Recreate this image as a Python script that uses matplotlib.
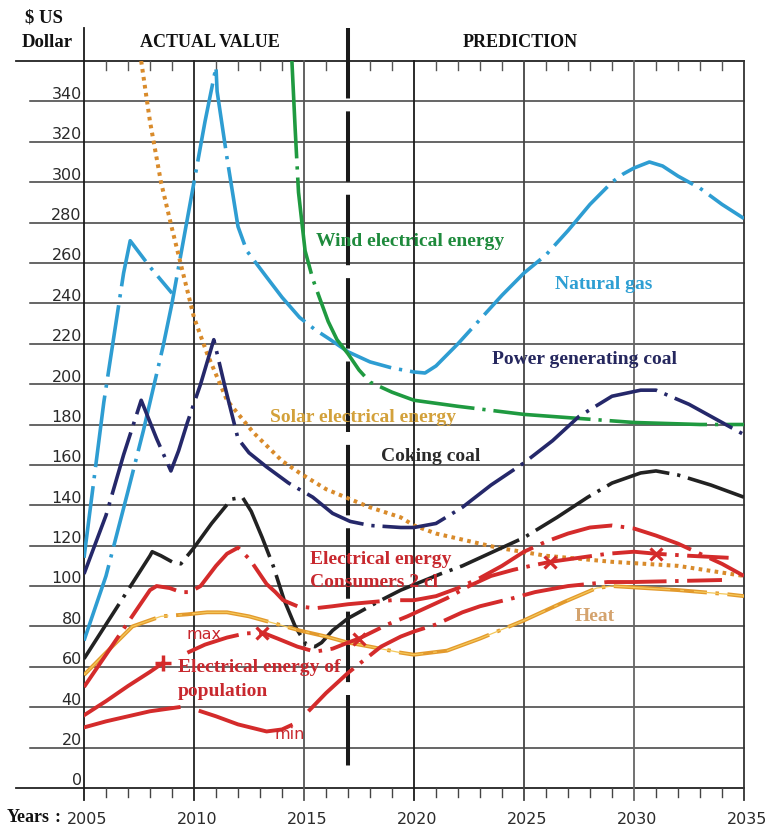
import matplotlib
matplotlib.use("Agg")
import matplotlib.pyplot as plt

# ---- values ($US, by year) ----
gas_years = [2005, 2006, 2007, 2007.7, 2008.6, 2009, 2009.5, 2010, 2010.5, 2011, 2011.05,
             2011.5, 2012, 2012.4, 2013.3, 2014, 2014.8, 2015.5, 2016.2, 2017, 2018, 2019,
             2020, 2020.5, 2021, 2022, 2023, 2024, 2025, 2026, 2027, 2028, 2029, 2029.5,
             2030, 2030.7, 2031.3, 2032, 2033, 2034, 2035]
gas_vals = [73, 105, 147, 177, 219, 240, 270, 300, 330, 357, 345,
            312, 278, 266, 253, 243, 233, 227, 222, 216, 211, 208,
            206, 205.5, 209, 220, 232, 244, 255, 264, 276, 289, 300, 304,
            307, 310, 308, 303, 297, 289, 282]
gas2_years = [2005, 2005.9, 2006.8, 2007.1, 2008, 2009]
gas2_vals = [114, 191, 255, 271, 258, 245]

wind_years = [2014.45, 2014.6, 2014.75, 2015.05, 2015.4, 2015.73, 2016.1, 2016.5, 2017,
              2017.5, 2018, 2019, 2020, 2022, 2025, 2027.5, 2030, 2033, 2035]
wind_vals = [360, 326, 295, 266, 252, 242, 231, 222, 215,
             207, 201, 196, 192, 189, 185, 183, 181, 180, 180]

solar_years = [2007.6, 2008, 2008.5, 2009, 2009.5, 2010, 2010.6, 2011.5, 2012.7, 2014,
               2014.8, 2016, 2017.1, 2018, 2019.4, 2020, 2021, 2022.2, 2023.8, 2026,
               2029, 2032, 2035]
solar_vals = [360, 330, 300, 277, 255, 233, 215, 192, 176, 162,
              156, 148, 143, 139, 134, 130, 126, 123, 119, 115,
              112, 110, 105]

pcoal_years = [2005, 2006, 2006.8, 2007.6, 2008.3, 2008.95, 2009.3, 2009.7, 2010.3, 2010.9,
               2011.4, 2011.7, 2012, 2012.5, 2013.3, 2014.3, 2015.4, 2016.3, 2017.1, 2018,
               2019.4, 2020, 2021, 2022.2, 2023.5, 2025, 2026.3, 2027.5, 2029, 2030.3,
               2031, 2032.5, 2033.5, 2035]
pcoal_vals = [106, 135, 165, 192, 173, 157, 167, 181, 200, 222,
              199, 186, 173, 166, 159, 151, 144, 136, 132, 130,
              129, 129, 131, 139, 150, 161, 172, 184, 194, 197,
              197, 190, 184, 175]

ccoal_years = [2005, 2006, 2007, 2008, 2008.1, 2008.5, 2009, 2009.4, 2010, 2010.8, 2011.7,
               2012.2, 2012.6, 2013.1, 2013.6, 2014.1, 2014.6, 2015.1, 2015.5, 2015.8,
               2016.3, 2017, 2017.5, 2018.5, 2019.4, 2020.3, 2021.2, 2022.2, 2023.8, 2025,
               2026.5, 2027.9, 2029, 2030.3, 2031, 2032, 2033.5, 2035]
ccoal_vals = [64, 81, 98, 115, 117, 115, 112, 111, 119, 131, 143,
              144, 137, 124, 110, 93, 80, 71, 70, 72,
              78, 84, 87, 93, 98, 102, 106, 110, 118, 124,
              134, 144, 151, 156, 157, 155, 150, 144]

heat_years = [2005, 2006, 2007.2, 2008.5, 2009.7, 2010.6, 2011.5, 2012.5, 2013.5, 2014.8,
              2016, 2017, 2018, 2019.4, 2020, 2021.5, 2023, 2025, 2026.8, 2028.3, 2029,
              2030.5, 2032, 2034.2, 2035]
heat_vals = [56, 67, 80, 85, 86, 87, 87, 85, 82, 78,
             75, 72, 70, 67, 66, 68, 74, 83, 92, 99, 100,
             99, 98, 96, 95]

cons_years = [2005, 2006, 2007, 2008, 2008.3, 2008.9, 2009.4, 2009.8, 2010.3, 2011, 2011.5,
              2012, 2012.55, 2013.3, 2013.7, 2014.05, 2014.7, 2015.5, 2016.3, 2017, 2018,
              2019, 2020, 2021, 2022, 2023, 2024, 2025, 2026, 2027, 2028, 2029, 2030,
              2031, 2032, 2033, 2034, 2035]
cons_vals = [50, 66, 82, 98, 100, 99, 97, 97, 100, 110, 116,
             119, 113, 101, 97, 93, 90, 89, 90, 91, 92,
             93, 93, 95, 99, 104, 110, 117, 122, 126, 129, 130, 128.5,
             125, 121, 116, 111, 105]

pop_years = [2005, 2006, 2007, 2008, 2008.6]
pop_vals = [36, 43, 50.5, 57.5, 62]

max_years = [2009.7, 2010.5, 2011.5, 2012.3, 2013.1, 2013.8, 2014.7, 2015.5, 2016.3, 2017,
             2017.5, 2018.8, 2019.7, 2020.5, 2021.5, 2022.5, 2023.5, 2024.5, 2025.3, 2026.2,
             2027.5, 2028.8, 2030, 2031, 2032.5, 2034.3]
max_vals = [67, 71, 74.5, 76.5, 77, 74, 70, 67.5, 69, 72,
            74, 81, 85, 89, 94, 100, 105, 108, 110, 112,
            114, 116, 117, 116, 115, 114]
max_mark_years = [2013.1, 2017.5, 2026.2, 2031]
max_mark_vals = [77, 74, 112, 116]

min1_years = [2005, 2006, 2007, 2008, 2009.3]
min1_vals = [30, 33, 35.5, 38, 40]
min2_years = [2010.3, 2011, 2012, 2013.3, 2014, 2014.4]
min2_vals = [38, 35.5, 31.5, 28, 29, 31]
min3_years = [2015.2, 2016, 2017, 2018.5, 2019.4, 2020, 2021, 2022.2, 2023, 2024.5,
              2025.5, 2027, 2028.8, 2030, 2032, 2034]
min3_vals = [38, 47, 57, 70, 75, 77.5, 81, 87, 90, 94,
             97, 100, 102, 102, 102.5, 103]

y_ticks = list(range(0, 361, 20))
x_major = [2005, 2010, 2015, 2020, 2025, 2030, 2035]

SERIF = "Liberation Serif"
RED = "#d42b2b"

fig = plt.figure(figsize=(7.66, 8.31), dpi=100)
ax = fig.add_axes([84 / 766, 43 / 831, 660 / 766, 727 / 831])
ax.set_xlim(2005, 2035)
ax.set_ylim(0, 360)
ax.axis("off")

# grid, drawn by hand because it runs outside the plot box
for v in y_ticks:
    if v in (0, 360):
        ax.plot([2001.9, 2035], [v, v], color="#222222", lw=1.3, clip_on=False, zorder=1)
    else:
        ax.plot([2002.55, 2035], [v, v], color="#3c3c3c", lw=1.1, clip_on=False, zorder=1)
        ax.text(2004.9, v + 3.5, str(v), ha="right", va="center", fontsize=11.5, color="#2a2a2a")
ax.text(2004.9, 3.5, "0", ha="right", va="center", fontsize=11.5, color="#2a2a2a")

vcols = ["#1a1a1a", "#222222", "#555555", "#1a1a1a", "#444444", "#666666", "#333333"]
for yr, c in zip(x_major, vcols):
    top = 376.4 if yr == 2005 else 360
    ax.plot([yr, yr], [-6, top], color=c, lw=1.3, clip_on=False, zorder=1)
    ax.text(yr + 0.15, -15.8, str(yr), ha="center", va="center", fontsize=11.5, color="#2a2a2a")

for yr in range(2006, 2035):
    if yr % 5:
        ax.plot([yr, yr], [0, -4.5], color="#444444", lw=1, clip_on=False, zorder=1)
        ax.plot([yr, yr], [360, 355.5], color="#555555", lw=1, clip_on=False, zorder=1)

# actual / prediction divider
ax.plot([2017, 2017], [376.4, 6.4], color="#1a1a1a", lw=2.9,
        linestyle=(0, (17.5, 3.2)), clip_on=False, zorder=2)

# series
ax.plot(gas_years, gas_vals, color="#2e9dd2", lw=2.6, linestyle=(0, (22, 2.2, 0.9, 2.2)), zorder=3)
ax.plot(gas2_years, gas2_vals, color="#2e9dd2", lw=2.6, linestyle=(0, (20, 2.2, 0.9, 2.2)), zorder=3)
ax.plot(wind_years, wind_vals, color="#1f9a40", lw=2.6, linestyle=(0, (27, 2.2, 0.9, 2.2)), zorder=3)
ax.plot(solar_years, solar_vals, color="#d98b2b", lw=2.9, linestyle=(0, (0.9, 1.1)),
        dash_capstyle="butt", zorder=3)
ax.plot(pcoal_years, pcoal_vals, color="#25286a", lw=2.6, linestyle=(0, (18, 2.2, 0.9, 2.2)), zorder=3)
ax.plot(ccoal_years, ccoal_vals, color="#222222", lw=2.6, linestyle=(0, (18, 2.2, 0.9, 2.2)), zorder=3)
ax.plot(heat_years, heat_vals, color="#e39a2d", lw=2.8, linestyle=(0, (24, 2.2, 0.9, 2.2)), zorder=3)
ax.plot(heat_years, heat_vals, color="#f4c85a", lw=0.9, linestyle=(0, (85, 8, 3, 8)), zorder=3)

ax.plot(cons_years, cons_vals, color=RED, lw=2.8, linestyle=(0, (16, 2.2, 0.9, 2.2)), zorder=3)
ax.plot(pop_years, pop_vals, color=RED, lw=2.8, zorder=3)
ax.plot(pop_years[-1:], pop_vals[-1:], "+", color=RED, ms=11, mew=2.5, zorder=4)
ax.plot(max_years, max_vals, color=RED, lw=2.8, linestyle=(0, (14, 2.2, 0.9, 2.2)), zorder=3)
ax.plot(max_mark_years, max_mark_vals, "x", color=RED, ms=9, mew=2.3, zorder=4)
ax.plot(min1_years, min1_vals, color=RED, lw=2.8, zorder=3)
ax.plot(min2_years, min2_vals, color=RED, lw=2.8, zorder=3)
ax.plot(min3_years, min3_vals, color=RED, lw=2.8, linestyle=(0, (16, 2.2, 0.9, 2.2)), zorder=3)

# labels
lab = dict(family=SERIF, fontweight="bold", fontsize=14, va="center", ha="left", zorder=5)
ax.text(2015.55, 270.4, "Wind electrical energy", color="#1e8a3c", **lab)
ax.text(2026.41, 249.1, "Natural gas", color="#2e9fd3", **lab)
ax.text(2023.55, 212, "Power generating coal", color="#25275e", **lab)
ax.text(2013.45, 183.7, "Solar electrical energy", color="#d3a13b", **lab)
ax.text(2018.5, 164, "Coking coal", color="#2a2a2a", **lab)
ax.text(2015.27, 113, "Electrical energy", color="#c8282e", **lab)
ax.text(2015.27, 102, "Consumers 2 cl", color="#c8282e", **lab)
ax.text(2027.32, 84.7, "Heat", color="#d4a36e", **lab)
ax.text(2009.27, 59.9, "Electrical energy of", color="#c8282e", **lab)
ax.text(2009.27, 48.0, "population", color="#c8282e", **lab)
ax.text(2009.68, 75.8, "max", color="#c8282e", fontsize=11.5, va="center", ha="left", zorder=5)
ax.text(2013.68, 26.7, "min", color="#c8282e", fontsize=11.5, va="center", ha="left", zorder=5)

head = dict(family=SERIF, fontweight="bold", fontsize=13, color="#111111", va="center")
ax.text(2010.73, 369.4, "ACTUAL VALUE", ha="center", **head)
ax.text(2024.82, 369.4, "PREDICTION", ha="center", **head)
ax.text(2003.18, 381.3, "$ US", ha="center", **dict(head, fontsize=13.5))
ax.text(2003.32, 369.4, "Dollar", ha="center", **dict(head, fontsize=13.5))
fig.text(7 / 766, 1 - 818 / 831, "Years", ha="left", va="center", family=SERIF,
         fontweight="bold", fontsize=13, color="#111111")
fig.text(55 / 766, 1 - 818 / 831, ":", ha="left", va="center", family=SERIF,
         fontweight="bold", fontsize=13, color="#111111")

fig.savefig("out.png", dpi=100)
